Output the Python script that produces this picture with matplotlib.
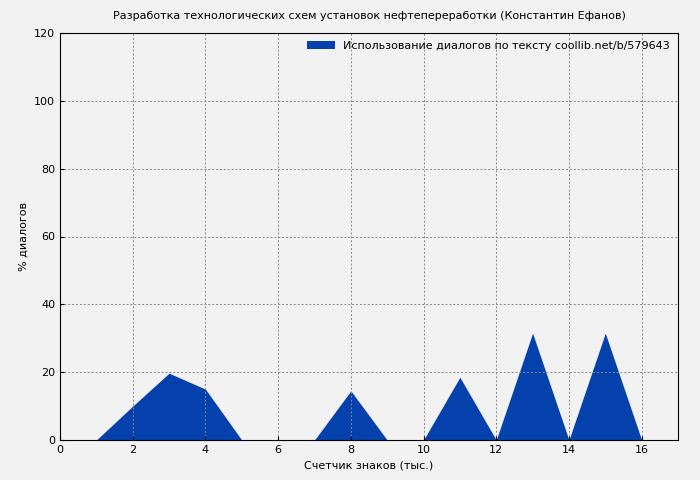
import matplotlib
matplotlib.use("Agg")
import matplotlib.pyplot as plt

x = [1, 2, 3, 4, 5, 6, 7, 8, 9, 10, 11, 12, 13, 14, 15, 16]
y = [0, 10, 19.7, 15, 0, 0, 0, 14.5, 0, 0, 18.5, 0, 31.5, 0, 31.5, 0]
xticks = [0, 2, 4, 6, 8, 10, 12, 14, 16]
yticks = [0, 20, 40, 60, 80, 100, 120]

fig = plt.figure(figsize=(7, 4.8), dpi=100, facecolor="#f2f2f2")
ax = fig.add_axes([60/700, 40/480, 618/700, 407/480], facecolor="#f2f2f2")
ax.fill_between(x, y, 0, color="#0441ac", linewidth=0,
                label="Использование диалогов по тексту coollib.net/b/579643")
ax.set_xlim(0, 17)
ax.set_ylim(0, 120)
ax.set_xticks(xticks)
ax.set_yticks(yticks)
ax.tick_params(labelsize=8, direction="in", length=3)
ax.grid(True, color="#888888", linestyle=(0, (2, 2)), linewidth=0.7)
ax.set_xlabel("Счетчик знаков (тыс.)", fontsize=8)
ax.set_ylabel("% диалогов", fontsize=8)
ax.set_title("Разработка технологических схем установок нефтепереработки (Константин Ефанов)", fontsize=8, pad=10)
leg = ax.legend(loc="upper right", fontsize=8, frameon=False, handlelength=2.5, borderaxespad=0.3)
fig.savefig("out.png", dpi=100, facecolor=fig.get_facecolor())
